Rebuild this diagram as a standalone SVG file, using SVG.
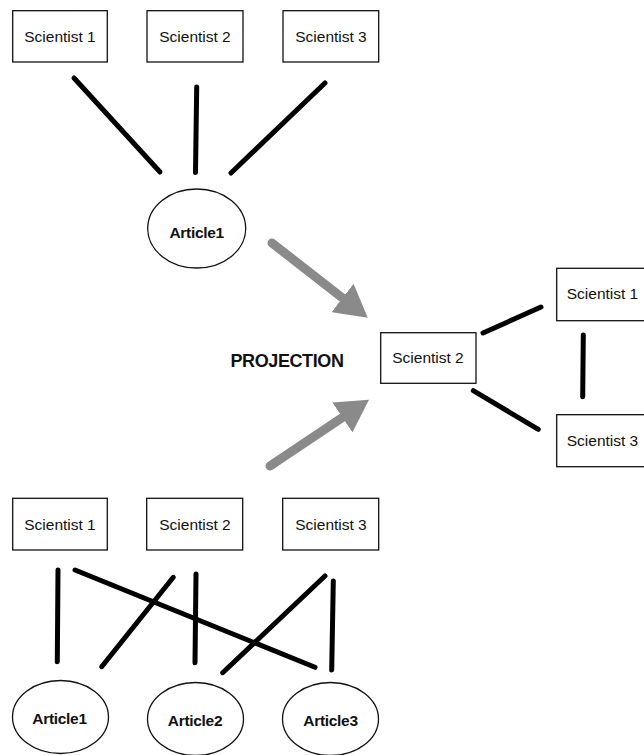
<svg xmlns="http://www.w3.org/2000/svg" width="644" height="755" viewBox="0 0 644 755">
<defs>
<style>
.box{fill:#fff;stroke:#111;stroke-width:1.3}
.ell{fill:#fff;stroke:#111;stroke-width:1.3}
.lbl{font-family:"Liberation Sans",Arial,sans-serif;font-size:15.5px;fill:#111;text-anchor:middle}
.art{font-family:"Liberation Sans",Arial,sans-serif;font-size:15.5px;font-weight:bold;fill:#111;text-anchor:middle;letter-spacing:-0.3px}
.proj{font-family:"Liberation Sans",Arial,sans-serif;font-size:18px;font-weight:bold;fill:#111;text-anchor:middle;letter-spacing:-0.4px}
.edge{stroke:#000;stroke-width:5;stroke-linecap:round;fill:none}
.arrow{stroke:#8a8a8a;stroke-width:9;stroke-linecap:round;fill:none}
</style>
<marker id="head" markerUnits="userSpaceOnUse" markerWidth="32" markerHeight="36" viewBox="0 0 32 36" refX="0" refY="18" orient="auto">
<path d="M0,0 L32,18 L0,36 z" fill="#8a8a8a"/>
</marker>
</defs>
<rect width="644" height="755" fill="#fff"/>
<g id="connectors">
<line class="edge" x1="74" y1="78" x2="160" y2="172"/>
<line class="edge" x1="196.7" y1="87" x2="195.5" y2="172.5"/>
<line class="edge" x1="325" y1="83" x2="231" y2="173"/>
<line class="edge" x1="483" y1="333" x2="541" y2="307"/>
<line class="edge" x1="583.3" y1="335" x2="582.7" y2="396.7"/>
<line class="edge" x1="473.3" y1="390.7" x2="538.3" y2="429.3"/>
<line class="edge" x1="58" y1="570" x2="57.3" y2="661.7"/>
<line class="edge" x1="75" y1="570" x2="315" y2="667.3"/>
<line class="edge" x1="173.3" y1="577.3" x2="101.7" y2="666.7"/>
<line class="edge" x1="196" y1="574" x2="195" y2="662.7"/>
<line class="edge" x1="325" y1="576" x2="222.7" y2="672.7"/>
<line class="edge" x1="333.3" y1="581" x2="331.7" y2="670"/>
<line class="arrow" x1="272" y1="243" x2="342.5" y2="298" marker-end="url(#head)"/>
<line class="arrow" x1="270" y1="466" x2="342.4" y2="417.5" marker-end="url(#head)"/>
</g>
<g id="top-sci1"><rect class="box" x="12.7" y="10.7" width="94.6" height="51.3"/><text class="lbl" x="60" y="42.3">Scientist 1</text></g>
<g id="top-sci2"><rect class="box" x="147" y="10.7" width="96" height="51.3"/><text class="lbl" x="195" y="42.3">Scientist 2</text></g>
<g id="top-sci3"><rect class="box" x="283" y="10.7" width="95.7" height="51.3"/><text class="lbl" x="331" y="42.3">Scientist 3</text></g>
<g id="top-article1"><ellipse class="ell" cx="196.7" cy="228.5" rx="49" ry="39.5"/><text class="art" x="196.7" y="237.7">Article1</text></g>
<g id="projection-label"><text class="proj" x="287" y="367">PROJECTION</text></g>
<g id="proj-sci2"><rect class="box" x="380.7" y="332.7" width="95.3" height="50.6"/><text class="lbl" x="428" y="363">Scientist 2</text></g>
<g id="proj-sci1"><rect class="box" x="556.7" y="268.3" width="95" height="52.4"/><text class="lbl" x="602.5" y="299">Scientist 1</text></g>
<g id="proj-sci3"><rect class="box" x="556.7" y="414.7" width="95" height="52"/><text class="lbl" x="602.5" y="446">Scientist 3</text></g>
<g id="bot-sci1"><rect class="box" x="12.7" y="498.3" width="94.6" height="51.7"/><text class="lbl" x="60" y="530">Scientist 1</text></g>
<g id="bot-sci2"><rect class="box" x="146.7" y="498.3" width="96" height="51.7"/><text class="lbl" x="195" y="530">Scientist 2</text></g>
<g id="bot-sci3"><rect class="box" x="282.7" y="498.3" width="96" height="51.7"/><text class="lbl" x="331" y="530">Scientist 3</text></g>
<g id="bot-article1"><ellipse class="ell" cx="60.5" cy="717" rx="48" ry="36.5"/><text class="art" x="59.5" y="724">Article1</text></g>
<g id="bot-article2"><ellipse class="ell" cx="195.5" cy="719" rx="48" ry="36.5"/><text class="art" x="195" y="726">Article2</text></g>
<g id="bot-article3"><ellipse class="ell" cx="330.5" cy="719" rx="48" ry="36.5"/><text class="art" x="330.5" y="726">Article3</text></g>
</svg>
